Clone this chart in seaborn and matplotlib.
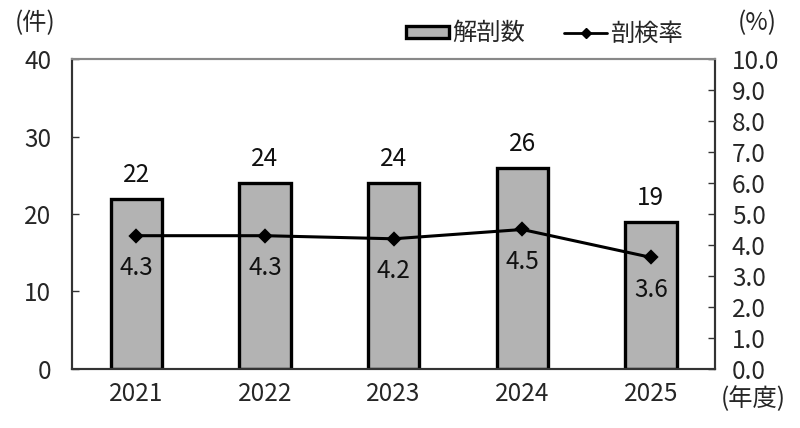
import matplotlib
matplotlib.use("Agg")
import matplotlib.pyplot as plt
import seaborn as sns
import pandas as pd
from matplotlib.patches import Patch
from matplotlib.lines import Line2D

years = ["2021", "2022", "2023", "2024", "2025"]
autopsies = [22, 24, 24, 26, 19]
rates = [4.3, 4.3, 4.2, 4.5, 3.6]
left_ticks = [0, 10, 20, 30, 40]
right_ticks = [0.0, 1.0, 2.0, 3.0, 4.0, 5.0, 6.0, 7.0, 8.0, 9.0, 10.0]

sns.set_theme(style="white")
plt.rcParams['font.family'] = ['Noto Sans CJK JP', 'DejaVu Sans']

FS = 17.5
df = pd.DataFrame({"year": years, "count": autopsies, "rate": rates})

fig = plt.figure(figsize=(8, 4.28), dpi=100)
ax = fig.add_axes([0.09, 0.138, 0.804, 0.724])

sns.barplot(data=df, x="year", y="count", ax=ax, color="#b3b3b3",
            edgecolor="black", linewidth=2.4, width=0.4, saturation=1)
ax.set_ylim(0, 40)
ax.set_xlim(-0.5, len(years) - 0.5)
ax.set_yticks(left_ticks)
ax.set_xlabel("")
ax.set_ylabel("")
ax.tick_params(axis="y", direction="in", length=5, width=1, labelsize=FS, color="#333", pad=15)
ax.tick_params(axis="x", length=0, labelsize=FS, pad=9)
for i, v in enumerate(autopsies):
    ax.text(i, v + 1.4, str(v), ha="center", va="bottom", fontsize=FS, color="#111")

# boundary ticks on x axis
ax.set_xticks([i + 0.5 for i in range(len(years) - 1)], minor=True)
ax.tick_params(axis="x", which="minor", direction="in", length=5, width=1, color="#333")

ax2 = ax.twinx()
sns.pointplot(data=df, x="year", y="rate", ax=ax2, color="black",
              markers="D", linewidth=2.2, markersize=6)
ax2.set_ylim(0, 10)
ax2.set_xlim(-0.5, len(years) - 0.5)
ax2.set_yticks(right_ticks)
ax2.set_yticklabels([f"{t:.1f}" for t in right_ticks])
ax2.set_ylabel("")
ax2.tick_params(axis="y", direction="in", length=5, width=1, labelsize=FS, color="#333", pad=12)
for i, v in enumerate(rates):
    ax2.text(i, v - 0.62, f"{v}", ha="center", va="top", fontsize=FS, color="#111")

for a in (ax, ax2):
    for s in ["left", "right", "bottom"]:
        a.spines[s].set_color("#333")
        a.spines[s].set_linewidth(1.5)
    a.spines["top"].set_color("#888")
    a.spines["top"].set_linewidth(1.5)

fig.text(0.018, 0.915, "(件)", fontsize=FS, ha="left", va="bottom")
fig.text(0.947, 0.915, "(%)", fontsize=FS, ha="center", va="bottom")
fig.text(0.982, 0.098, "(年度)", fontsize=FS, ha="right", va="top")

handles = [Patch(facecolor="#b3b3b3", edgecolor="black", linewidth=2.4),
           Line2D([0], [0], color="black", marker="D", markersize=5, linewidth=2)]
fig.legend(handles, ["解剖数", "剖検率"], loc="center", bbox_to_anchor=(0.681, 0.922),
           ncol=2, frameon=False, fontsize=FS, handlelength=1.75, handleheight=0.4,
           handletextpad=0.15, columnspacing=1.6)

fig.savefig("out.png", dpi=100)
